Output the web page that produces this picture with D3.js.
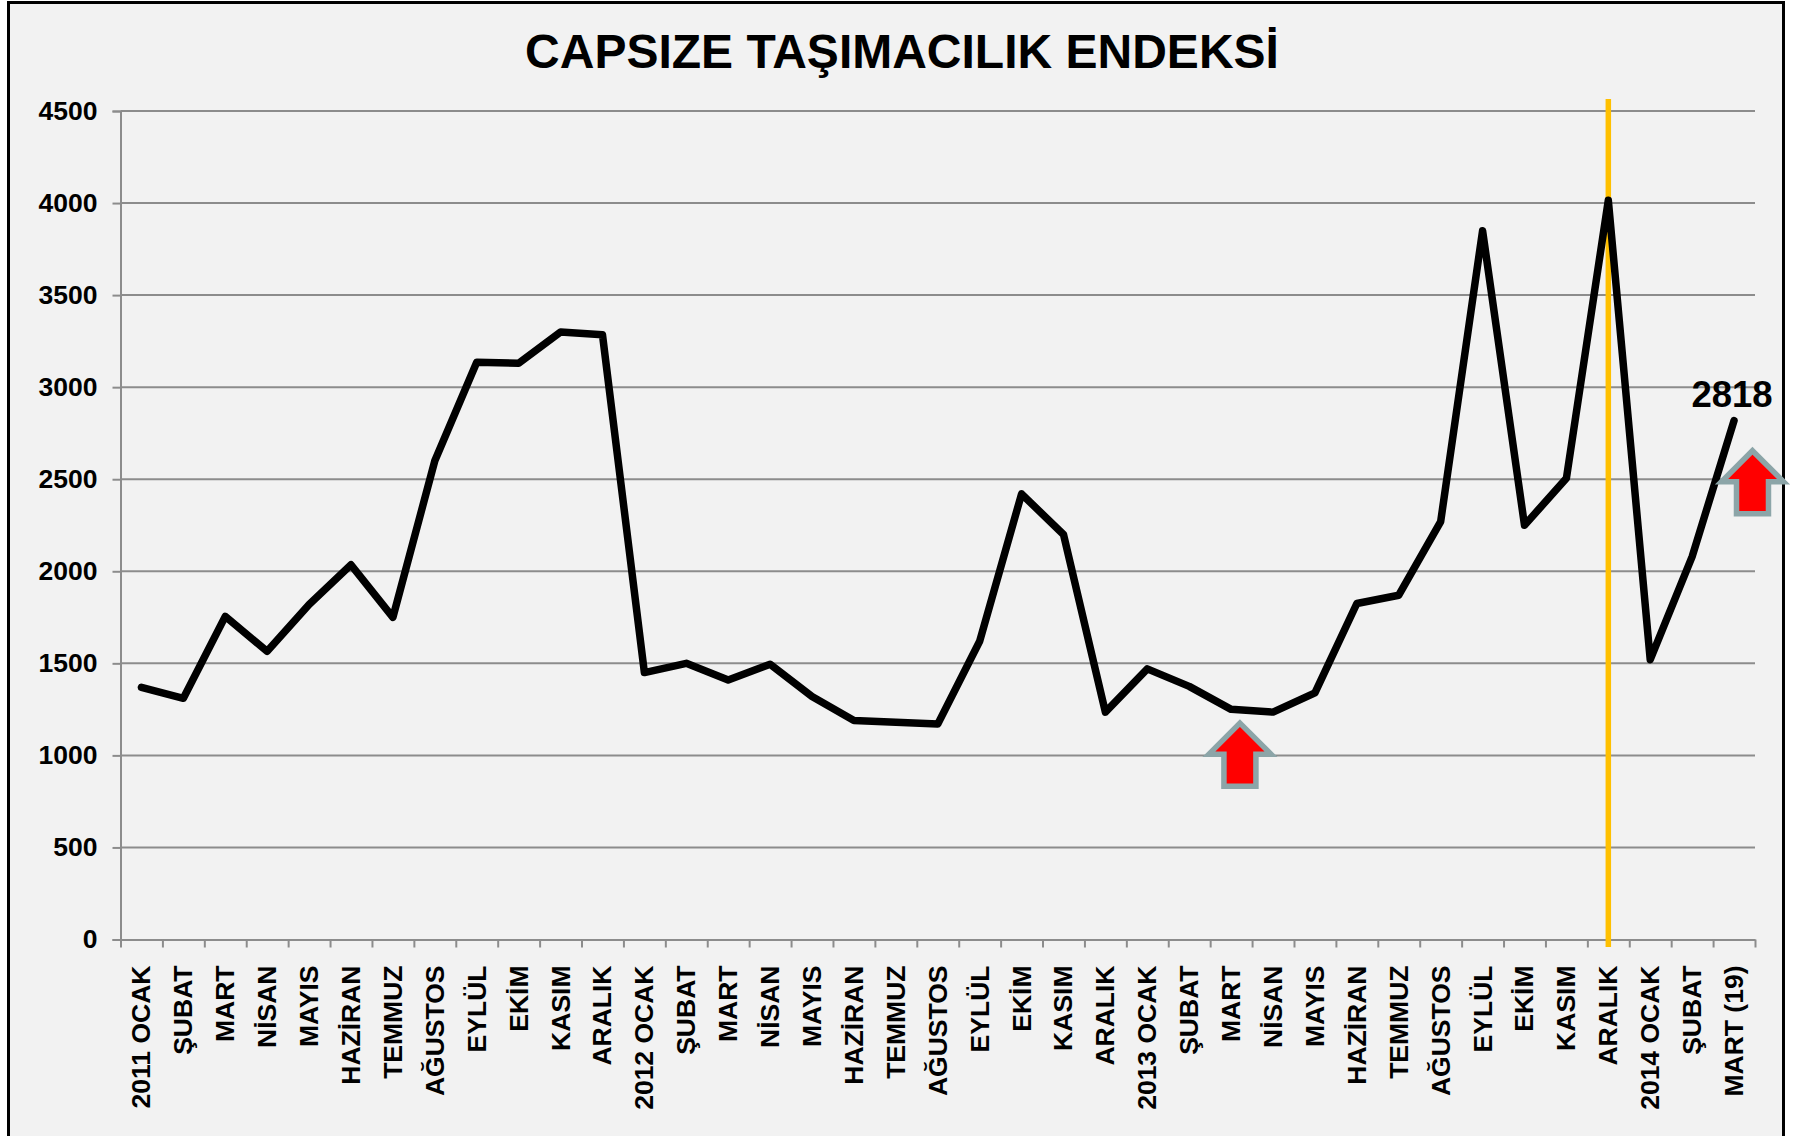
<!DOCTYPE html>
<html>
<head>
<meta charset="utf-8">
<script src="https://cdn.jsdelivr.net/npm/d3@7"></script>
<style>
html, body { margin: 0; padding: 0; background: #fff; }
svg { display: block; }
text { font-family: "Liberation Sans", Arial, sans-serif; font-weight: bold; fill: #000; }
</style>
</head>
<body>
<script>
const months = ["2011 OCAK","ŞUBAT","MART","NİSAN","MAYIS","HAZİRAN","TEMMUZ","AĞUSTOS","EYLÜL","EKİM","KASIM","ARALIK",
  "2012 OCAK","ŞUBAT","MART","NİSAN","MAYIS","HAZİRAN","TEMMUZ","AĞUSTOS","EYLÜL","EKİM","KASIM","ARALIK",
  "2013 OCAK","ŞUBAT","MART","NİSAN","MAYIS","HAZİRAN","TEMMUZ","AĞUSTOS","EYLÜL","EKİM","KASIM","ARALIK",
  "2014 OCAK","ŞUBAT","MART (19)"];
const values = [1370,1310,1755,1565,1820,2035,1750,2600,3135,3130,3300,3285,
  1450,1500,1410,1495,1320,1190,1180,1170,1620,2420,2200,1235,
  1470,1375,1250,1235,1340,1825,1870,2270,3850,2250,2505,4015,
  1520,2080,2818];
const yTicks = [0,500,1000,1500,2000,2500,3000,3500,4000,4500];
const title = "CAPSIZE TAŞIMACILIK ENDEKSİ";
const markerIndex = 35;        // yellow line on ARALIK 2013
const lastLabel = "2818";
// arrows: position on the category scale, value at the tip
const arrowPos = [26.71, 38.94];
const arrowTip = [1175, 2655];

const width = 1795, height = 1136;
const left = 120.5, right = 1755, top_ = 111, bottom = 939.5;

const svg = d3.select('body').append('svg')
  .attr('width', width)
  .attr('height', height)
  .attr('viewBox', `0 0 ${width} ${height}`);

// panel
svg.append('rect')
  .attr('x', 8.5).attr('y', 2.5)
  .attr('width', 1775).attr('height', 1150)
  .attr('fill', '#f2f2f2')
  .attr('stroke', '#000')
  .attr('stroke-width', 3);

const x = d3.scaleLinear().domain([0, months.length]).range([left, right]);
const y = d3.scaleLinear().domain([0, 4500]).range([bottom, top_]);

svg.append('text')
  .attr('x', 902).attr('y', 67.5)
  .attr('text-anchor', 'middle')
  .attr('font-size', 48)
  .text(title);

// y axis + gridlines
const yAxis = svg.append('g')
  .attr('transform', `translate(${left},0)`)
  .call(d3.axisLeft(y).tickValues(yTicks).tickSize(8).tickPadding(15).tickFormat(d3.format('d')));
yAxis.selectAll('line').attr('stroke', '#8c8c8c').attr('stroke-width', 2);
yAxis.select('.domain').attr('stroke', '#8c8c8c').attr('stroke-width', 2);
yAxis.selectAll('text')
  .attr('font-size', 26.5)
  .style('font-family', '"Liberation Sans", Arial, sans-serif');

svg.append('g').selectAll('line')
  .data(yTicks.filter(d => d > 0))
  .join('line')
  .attr('x1', left).attr('x2', right)
  .attr('y1', d => y(d)).attr('y2', d => y(d))
  .attr('stroke', '#8c8c8c')
  .attr('stroke-width', 2);

// x axis, ticks sit between the months
const xAxis = svg.append('g')
  .attr('transform', `translate(0,${bottom})`)
  .call(d3.axisBottom(x).tickValues(d3.range(months.length + 1)).tickSize(8).tickSizeOuter(0).tickFormat(''));
xAxis.selectAll('line').attr('stroke', '#8c8c8c').attr('stroke-width', 2);
xAxis.select('.domain').attr('stroke', '#8c8c8c').attr('stroke-width', 2);

svg.append('g').selectAll('text')
  .data(months)
  .join('text')
  .attr('transform', (d, i) => `translate(${x(i + 0.5) + 9},965.5) rotate(-90)`)
  .attr('text-anchor', 'end')
  .attr('font-size', 26.5)
  .text(d => d);

// yellow marker
svg.append('line')
  .attr('x1', x(markerIndex + 0.5)).attr('x2', x(markerIndex + 0.5))
  .attr('y1', 99).attr('y2', 947)
  .attr('stroke', '#ffc000')
  .attr('stroke-width', 5.5);

// series
const line = d3.line().x((d, i) => x(i + 0.5)).y(d => y(d));
svg.append('path')
  .datum(values)
  .attr('d', line)
  .attr('fill', 'none')
  .attr('stroke', '#000')
  .attr('stroke-width', 7.5)
  .attr('stroke-linejoin', 'round')
  .attr('stroke-linecap', 'round');

svg.append('text')
  .attr('x', x(months.length - 0.5) - 2).attr('y', y(values[values.length - 1]) - 13.5)
  .attr('text-anchor', 'middle')
  .attr('font-size', 36.5)
  .text(lastLabel);

// up arrows
const arrowShape = d3.line()([[0,0],[31,31],[16,31],[16,63],[-16,63],[-16,31],[-31,31]]) + 'Z';
svg.append('g').selectAll('path')
  .data(arrowPos)
  .join('path')
  .attr('transform', (d, i) => `translate(${x(d)},${y(arrowTip[i])})`)
  .attr('d', arrowShape)
  .attr('fill', '#ff0000')
  .attr('stroke', '#8ca5a8')
  .attr('stroke-width', 5.5)
  .attr('stroke-linejoin', 'miter');
</script>
</body>
</html>
